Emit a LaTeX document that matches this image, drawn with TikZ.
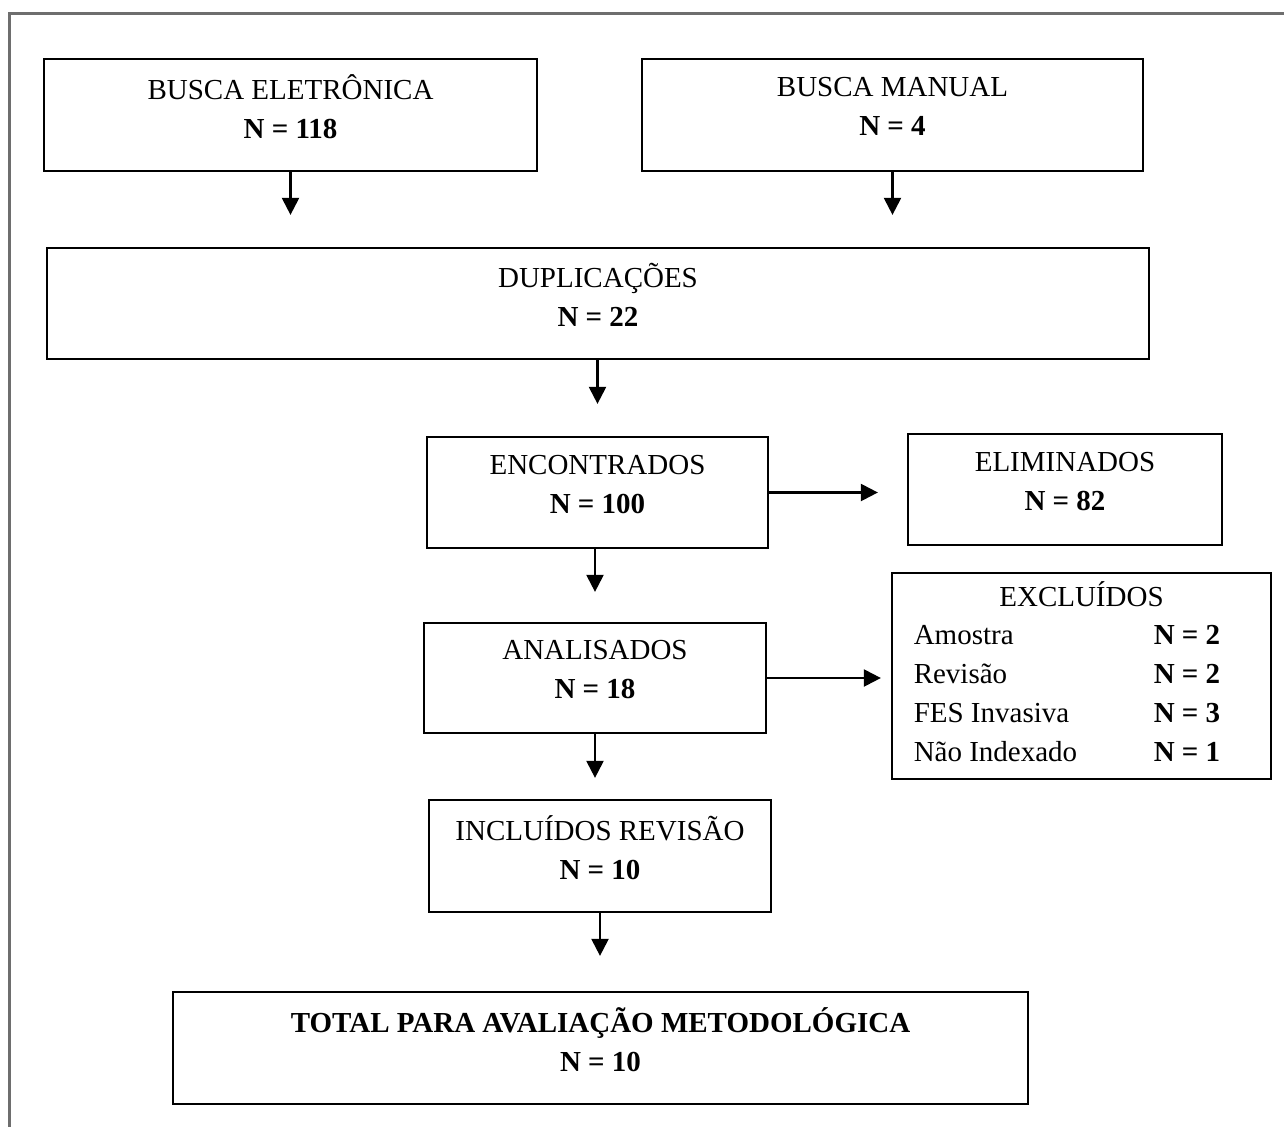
\documentclass[tikz,border=0pt]{standalone}
\usepackage{fontspec}
\setmainfont{Liberation Serif}
\usepackage{tikz}
\usetikzlibrary{arrows.meta}

\definecolor{framegray}{RGB}{110,110,110}
\newcommand{\lowfill}{\rule[-0.34cm]{0pt}{0.34cm}}

\begin{document}
\begin{tikzpicture}[>={Triangle[length=0.34cm,width=0.34cm]},
    box/.style={draw, line width=0.045cm, align=center, inner sep=0pt, minimum height=2.22cm},
    flow/.style={line width=0.045cm, ->}]
        \fontsize{16.5}{22.1}\selectfont
        \useasboundingbox (0,0) rectangle (25.68,-22.54);

        % Outer frame
        \draw [line width=0.05cm, color=framegray] (0.19,-22.6) -- (0.19,-0.27) -- (25.7,-0.27);

        % Search boxes
        \node at (5.81,-2.30) [box, minimum width=9.86cm, minimum height=2.24cm] (be) {BUSCA ELETRÔNICA\\\textbf{N = 118}\lowfill};
        \node at (17.85,-2.30) [box, minimum width=10.02cm, minimum height=2.24cm] (bm) {BUSCA MANUAL\\\textbf{N = 4}\lowfill};

        \node at (11.96,-6.07) [box, minimum width=22.04cm] (dup) {DUPLICAÇÕES\\\textbf{N = 22}\lowfill};

        % Selection
        \node at (11.95,-9.85) [box, minimum width=6.82cm] (enc) {ENCONTRADOS\\\textbf{N = 100}\lowfill};
        \node at (21.30,-9.79) [box, minimum width=6.28cm] (eli) {ELIMINADOS\\\textbf{N = 82}\lowfill};

        \node at (11.90,-13.56) [box, minimum width=6.84cm, minimum height=2.20cm] (ana) {ANALISADOS\\\textbf{N = 18}\lowfill};
        \node at (21.63,-13.52) [box, minimum width=7.58cm, minimum height=4.12cm] (exc) {%
            \begin{tabular}{@{}p{4.8cm}@{}l@{\hspace{0.58cm}}}
            \multicolumn{2}{@{}c@{}}{EXCLUÍDOS}\\
            Amostra & \textbf{N = 2}\\
            Revisão & \textbf{N = 2}\\
            FES Invasiva & \textbf{N = 3}\\
            Não Indexado & \textbf{N = 1}\\
            \end{tabular}};

        \node at (12.00,-17.12) [box, minimum width=6.84cm, minimum height=2.24cm] (inc) {INCLUÍDOS REVISÃO\\\textbf{N = 10}\lowfill};

        \node at (12.01,-20.96) [box, minimum width=17.10cm, minimum height=2.24cm] (tot) {\textbf{TOTAL PARA AVALIAÇÃO METODOLÓGICA}\\\textbf{N = 10}\lowfill};

        % Arrows down
        \draw [flow, shorten >=0.64cm] (be.south) -- (be.south |- dup.north);
        \draw [flow, shorten >=0.64cm] (bm.south) -- (bm.south |- dup.north);
        \draw [flow, shorten >=0.64cm] (enc |- dup.south) -- (enc.north);
        \draw [flow, shorten >=0.60cm] (ana |- enc.south) -- (ana.north);
        \draw [flow, shorten >=0.42cm] (ana.south) -- (ana.south |- inc.north);
        \draw [flow, shorten >=0.70cm] (inc.south) -- (inc.south |- tot.north);

        % Arrows right
        \draw [flow, shorten >=0.58cm] (enc.east) -- (enc.east -| eli.west);
        \draw [flow, shorten >=0.20cm] (ana.east) -- (ana.east -| exc.west);

    \end{tikzpicture}
\end{document}
